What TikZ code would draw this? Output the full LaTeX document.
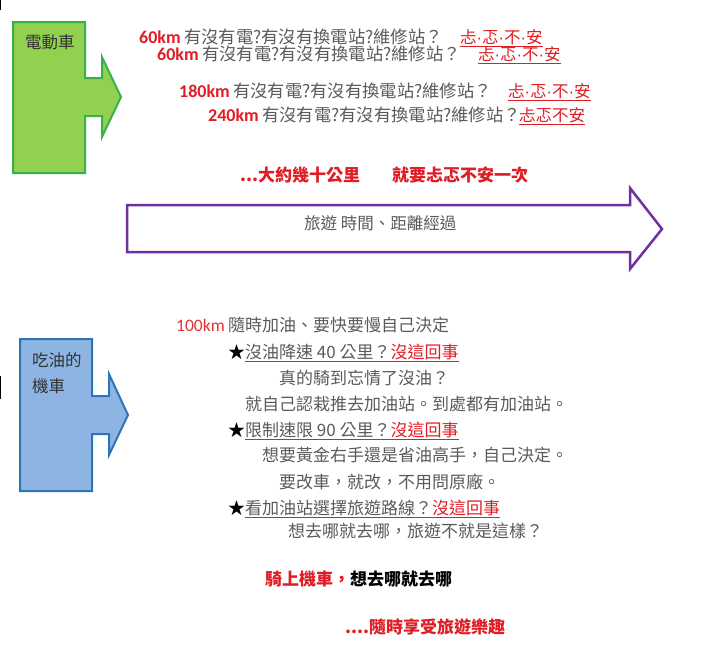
\documentclass[tikz,border=0pt]{standalone}
\usepackage{fontspec}
\setmainfont{Liberation Sans}
\newfontfamily\cjk{Noto Sans CJK TC}
\newfontfamily\lat{Carlito}
\newcommand\wdot{{\normalfont·}}
\definecolor{evgreen}{RGB}{146,208,80}
\definecolor{evedge}{RGB}{60,176,72}
\definecolor{scblue}{RGB}{141,180,226}
\definecolor{scedge}{RGB}{46,117,182}
\definecolor{tripline}{RGB}{112,48,160}
\definecolor{wordred}{RGB}{224,28,36}
\definecolor{kmred}{RGB}{226,50,50}
\definecolor{wordgray}{RGB}{90,90,90}

\begin{document}
\begin{tikzpicture}[x=1pt, y=-1pt,
  txt/.style={anchor=base west, inner sep=0pt, text=wordgray,
              font=\cjk\fontsize{16.5}{18}\selectfont},
  ask/.style={txt, font=\cjk\fontsize{17.3}{19}\selectfont},
  dist/.style={txt, text=wordred, font=\lat\bfseries\fontsize{18}{20}\selectfont},
  gas/.style={txt, font=\cjk\fontsize{17}{19}\selectfont},
  loud/.style={txt, text=wordred, font=\cjk\bfseries\fontsize{17}{19}\selectfont},
  tag/.style={txt, text=black!80, font=\cjk\fontsize{16.5}{18}\selectfont}]
  \useasboundingbox (0,0) rectangle (720,649);

  \draw[line width=1.2pt] (0.6,0) -- (0.6,10) (0.6,376) -- (0.6,399);

  \filldraw[fill=evgreen, draw=evedge, line width=2pt]
       (13,22) -- (85,22) -- (85,78) -- (102,78) -- (102,57) -- (121,97)
       -- (102,137) -- (102,116) -- (85,116) -- (85,173) -- (13,173) -- cycle;
  \node[tag] (ev) at (25,48) {電動車};

  \node[dist] (d1) at (139,43) {60km};
  \node[dist] (d2) at (157,60) {60km};
  \node[dist] (d3) at (179,97) {180km};
  \node[dist] (d4) at (208,121) {240km};
  \node[ask] (ev1) at (184,43) {有沒有電?有沒有換電站?維修站？};
  \node[ask] (ev2) at (202,60) {有沒有電?有沒有換電站?維修站？};
  \node[ask] (ev3) at (233,97) {有沒有電?有沒有換電站?維修站？};
  \node[ask] (ev4) at (262,121) {有沒有電?有沒有換電站?維修站？};
  \node[txt, text=wordred] (worry1) at (460,43) {\underline{忐\wdot 忑\wdot 不\wdot 安}};
  \node[txt, text=wordred] (worry2) at (478,60) {\underline{忐\wdot 忑\wdot 不\wdot 安}};
  \node[txt, text=wordred] (worry3) at (508,97) {\underline{忐\wdot 忑\wdot 不\wdot 安}};
  \node[txt, text=wordred] (worry4) at (519,121) {\underline{忐忑不安}};

  \node[loud] (every) at (240,181) {...大約幾十公里};
  \node[loud] (again) at (392,181) {就要忐忑不安一次};

  \filldraw[fill=white, draw=tripline, line width=2.5pt]
       (127,205) -- (630,205) -- (630,188) -- (662,229) -- (630,269)
       -- (630,252) -- (127,252) -- cycle;
  \node[txt] (trip) at (304,229) {旅遊\ 時間、距離經過};

  \filldraw[fill=scblue, draw=scedge, line width=2pt]
       (20,339) -- (92,339) -- (92,396) -- (109,396) -- (109,374) -- (128,415)
       -- (109,455) -- (109,434) -- (92,434) -- (92,491) -- (20,491) -- cycle;
  \node[tag] (sc1) at (32,366) {吃油的};
  \node[tag] (sc2) at (32,392) {機車};

  \node[gas, text=kmred, font=\lat\fontsize{17.5}{19}\selectfont] (km) at (176,331) {100km};
  \node[gas] (anytime) at (228,331) {隨時加油、要快要慢自己決定};
  \node[gas, text=black] (star1) at (228,358) {★};
  \node[gas] (slow) at (245,358)
       {\underline{沒油降速 40 公里？}\textcolor{wordred}{\underline{沒這回事}}};
  \node[gas] (forgot) at (279,384) {真的騎到忘情了沒油？};
  \node[gas] (push) at (245,410) {就自己認栽推去加油站。到處都有加油站。};
  \node[gas, text=black] (star2) at (228,436) {★};
  \node[gas] (limit) at (245,436)
       {\underline{限制速限 90 公里？}\textcolor{wordred}{\underline{沒這回事}}};
  \node[gas] (hand) at (262,461) {想要黃金右手還是省油高手，自己決定。};
  \node[gas] (mod) at (279,488) {要改車，就改，不用問原廠。};
  \node[gas, text=black] (star3) at (228,514) {★};
  \node[gas] (route) at (245,514)
       {\underline{看加油站選擇旅遊路線？}\textcolor{wordred}{\underline{沒這回事}}};
  \node[gas] (go) at (288,537) {想去哪就去哪，旅遊不就是這樣？};

  \node[loud] (ride) at (265,585) {騎上機車，\textcolor{black}{想去哪就去哪}};
  \node[loud] (enjoy) at (345,633) {....隨時享受旅遊樂趣};
\end{tikzpicture}
\end{document}
